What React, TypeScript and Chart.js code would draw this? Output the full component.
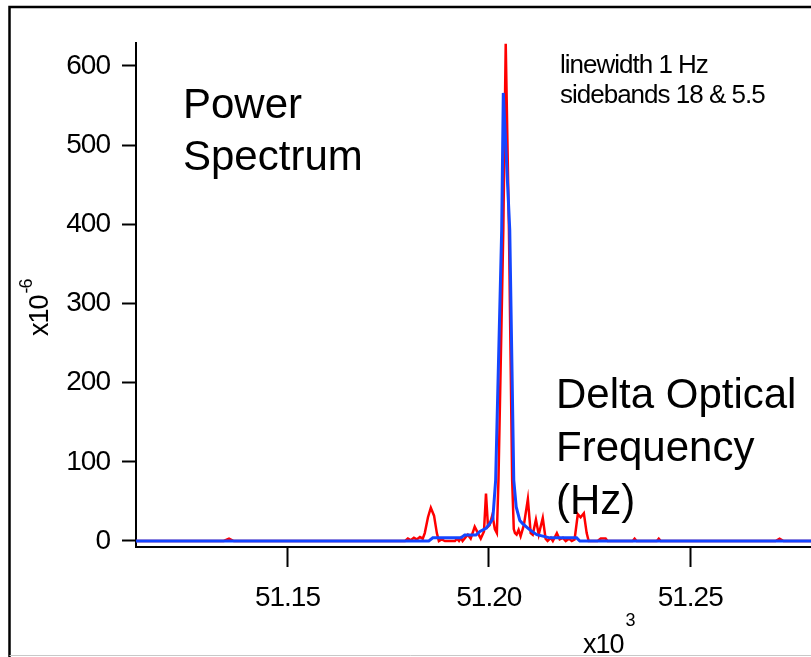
import { useEffect, useRef } from "react";
import { Chart, registerables } from "chart.js";

Chart.register(...registerables);

// Frequency axis in kHz (labelled x10^3 Hz), power in units of 1e-6
const xTicks = [51.15, 51.2, 51.25];
const yTicks = [0, 100, 200, 300, 400, 500, 600];

// Measured spectrum (red)
const redFreq = [
  51.1124, 51.1342, 51.1355, 51.1367, 51.1792, 51.1799, 51.1806, 51.1814, 51.1821, 51.1829,
  51.1836, 51.1841, 51.1849, 51.1856, 51.1864, 51.1871, 51.1876, 51.1883, 51.1891, 51.1916,
  51.1921, 51.1926, 51.1931, 51.1935, 51.1943, 51.1948, 51.1955, 51.1965, 51.1973, 51.198,
  51.1988, 51.1993, 51.1998, 51.2002, 51.2009, 51.2015, 51.202, 51.2024, 51.2036, 51.2042,
  51.205, 51.2058, 51.2062, 51.2065, 51.2069, 51.2074, 51.2079, 51.2087, 51.2097, 51.2104,
  51.2109, 51.2117, 51.2124, 51.2134, 51.2141, 51.2146, 51.2154, 51.2159, 51.2169, 51.2176,
  51.2184, 51.2191, 51.2199, 51.2206, 51.2213, 51.2221, 51.2228, 51.2236, 51.2243, 51.2248,
  51.227, 51.2278, 51.229, 51.2295, 51.2357, 51.2362, 51.2367, 51.2417, 51.2422, 51.2427,
  51.2712, 51.2722, 51.2732, 51.28,
];
const redPower = [
  0, 0, 3, 0, 0, 3, 1, 4, 2, 5,
  3, 10, 30, 42, 32, 10, 0, 2, 0, 0,
  3, 0, 4, 0, 5, 8, 3, 18, 10, 3,
  12, 60, 18, 20, 33, 15, 10, 77, 393, 628,
  393, 77, 15, 10, 8, 14, 6, 20, 53, 10,
  8, 27, 8, 29, 3, 0, 4, 0, 10, 2,
  4, 0, 3, 0, 2, 34, 30, 35, 10, 0,
  0, 3, 3, 0, 0, 3, 0, 0, 3, 0,
  0, 3, 0, 0,
];

// Model spectrum (blue)
const blueFreq = [
  51.1124, 51.1851, 51.1861, 51.1931, 51.194, 51.1968, 51.1978, 51.1993, 51.2002, 51.201,
  51.2017, 51.2032, 51.2036, 51.2052, 51.2062, 51.2068, 51.2077, 51.2084, 51.2102,
  51.2119, 51.2139, 51.2151, 51.2218, 51.2226, 51.28,
];
const bluePower = [
  0, 0, 4, 4, 7.5, 7.5, 12, 16, 22, 28,
  77, 393, 566, 393, 77, 43, 26, 22, 14,
  8, 5.5, 4, 4, 0, 0,
];

const titleLines = ["Power", "Spectrum"];
const axisNameLines = ["Delta Optical", "Frequency", "(Hz)"];
const noteLines = ["linewidth 1 Hz", "sidebands 18 & 5.5"];

const FONT = '"Liberation Sans", Arial, sans-serif';
const RED = "#ff0000";
const BLUE = "#1446ff";

const textPlugin = {
  id: "spectrumText",
  beforeDraw(chart: any) {
    (chart.ctx as any).letterSpacing = "-1px";
  },
  afterDraw(chart: any) {
    const ctx = chart.ctx as CanvasRenderingContext2D & { letterSpacing: string };
    ctx.save();
    ctx.fillStyle = "#000";
    ctx.textAlign = "left";
    ctx.textBaseline = "alphabetic";

    ctx.letterSpacing = "0px";
    ctx.font = `42px ${FONT}`;
    titleLines.forEach((t, i) => ctx.fillText(t, 183, 118 + i * 52));
    axisNameLines.forEach((t, i) => ctx.fillText(t, 556, 408 + i * 53));

    ctx.letterSpacing = "-1px";
    ctx.font = `26px ${FONT}`;
    noteLines.forEach((t, i) => ctx.fillText(t, 560, 73 + i * 30));

    // x-axis multiplier
    ctx.font = `27px ${FONT}`;
    ctx.fillText("x10", 583, 653);
    const w3 = ctx.measureText("x10").width;
    ctx.font = `18px ${FONT}`;
    ctx.fillText("3", 583 + w3 + 2, 626);

    // y-axis multiplier (rotated)
    ctx.save();
    ctx.translate(48, 336);
    ctx.rotate(-Math.PI / 2);
    ctx.font = `27px ${FONT}`;
    ctx.fillText("x10", 0, 0);
    const w6 = ctx.measureText("x10").width;
    ctx.font = `18px ${FONT}`;
    ctx.fillText("-6", w6 + 2, -16);
    ctx.restore();

    // outer frame
    ctx.strokeStyle = "#000";
    ctx.lineWidth = 2.5;
    ctx.beginPath();
    ctx.moveTo(9.5, 657);
    ctx.lineTo(9.5, 7);
    ctx.lineTo(811, 7);
    ctx.stroke();
    ctx.strokeStyle = "#c8c8c8";
    ctx.lineWidth = 1;
    ctx.beginPath();
    ctx.moveTo(9.5, 655.5);
    ctx.lineTo(811, 655.5);
    ctx.stroke();
    ctx.restore();
  },
};

export default function App() {
  const canvasRef = useRef<HTMLCanvasElement | null>(null);

  useEffect(() => {
    const canvas = canvasRef.current;
    if (!canvas) return;
    const chart = new Chart(canvas, {
      type: "line",
      data: {
        datasets: [
          {
            data: blueFreq.map((x, i) => ({ x, y: bluePower[i] })),
            borderColor: BLUE,
            borderWidth: 3,
            pointRadius: 0,
            tension: 0,
            fill: false,
          },
          {
            data: redFreq.map((x, i) => ({ x, y: redPower[i] })),
            borderColor: RED,
            borderWidth: 2.5,
            pointRadius: 0,
            tension: 0,
            fill: false,
          },
        ],
      },
      options: {
        animation: false,
        responsive: false,
        devicePixelRatio: 1,
        layout: { padding: { top: 43, left: 0, right: 0, bottom: 0 } },
        plugins: { legend: { display: false }, tooltip: { enabled: false } },
        scales: {
          x: {
            type: "linear",
            min: 51.1124,
            max: 51.28,
            afterBuildTicks: (s: any) => {
              s.ticks = xTicks.map((v) => ({ value: v }));
            },
            afterFit: (s: any) => {
              s.height = 110;
            },
            border: { display: true, color: "#000", width: 2 },
            grid: {
              display: true,
              drawOnChartArea: false,
              drawTicks: true,
              tickLength: 20,
              tickWidth: 2,
              tickColor: "#000",
            },
            ticks: {
              color: "#000",
              font: { family: FONT, size: 28 },
              padding: 14,
              maxRotation: 0,
              autoSkip: false,
              callback: (v: any) => Number(v).toFixed(2),
            },
          },
          y: {
            type: "linear",
            min: -7.58,
            max: 629.05,
            afterBuildTicks: (s: any) => {
              s.ticks = yTicks.map((v) => ({ value: v }));
            },
            afterFit: (s: any) => {
              s.width = 136;
            },
            border: { display: true, color: "#000", width: 2 },
            grid: {
              display: true,
              drawOnChartArea: false,
              drawTicks: true,
              tickLength: 14,
              tickWidth: 2,
              tickColor: "#000",
            },
            ticks: {
              color: "#000",
              font: { family: FONT, size: 28 },
              padding: 12,
              autoSkip: false,
              callback: (v: any) => String(v),
            },
          },
        },
      },
      plugins: [textPlugin],
    });
    return () => chart.destroy();
  }, []);

  return (
    <canvas
      ref={canvasRef}
      width={811}
      height={657}
      style={{ position: "fixed", left: 0, top: 0, display: "block", background: "#fff" }}
    />
  );
}
